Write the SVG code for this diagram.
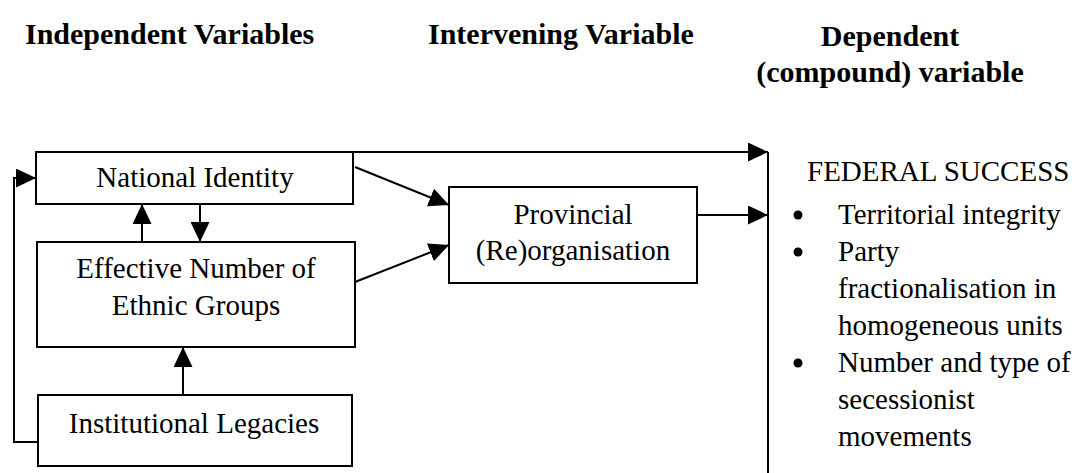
<svg xmlns="http://www.w3.org/2000/svg" width="1091" height="473" viewBox="0 0 1091 473">
<style>
  .hdr { font-family: "Liberation Serif", "Times New Roman", serif; font-weight: bold; font-size: 30px; fill: #000; }
  .t { font-family: "Liberation Serif", "Times New Roman", serif; font-size: 29px; fill: #000; }
  .box { fill: none; stroke: #000; stroke-width: 2; }
  .con { fill: none; stroke: #000; stroke-width: 2; }
</style>
<defs>
  <marker id="ah" markerUnits="userSpaceOnUse" markerWidth="20" markerHeight="19" refX="20" refY="9.5" orient="auto">
    <path d="M0,0 L20,9.5 L0,19 z" fill="#000"/>
  </marker>
</defs>
<rect width="1091" height="473" fill="#fff"/>
<g id="headers">
  <text class="hdr" x="25" y="44">Independent Variables</text>
  <text class="hdr" x="428" y="44">Intervening Variable</text>
  <text class="hdr" x="890" y="46" text-anchor="middle">Dependent</text>
  <text class="hdr" x="890" y="82" text-anchor="middle">(compound) variable</text>
</g>
<g id="national-identity">
  <rect class="box" x="36" y="152" width="317" height="52"/>
  <text class="t" x="195" y="187" text-anchor="middle">National Identity</text>
</g>
<g id="effective-number">
  <rect class="box" x="37" y="242" width="318" height="105"/>
  <text class="t" x="196" y="278" text-anchor="middle">Effective Number of</text>
  <text class="t" x="196" y="315" text-anchor="middle">Ethnic Groups</text>
</g>
<g id="institutional-legacies">
  <rect class="box" x="38" y="395" width="314" height="71"/>
  <text class="t" x="194" y="433" text-anchor="middle">Institutional Legacies</text>
</g>
<g id="provincial">
  <rect class="box" x="449" y="187" width="248" height="96"/>
  <text class="t" x="573" y="224" text-anchor="middle">Provincial</text>
  <text class="t" x="573" y="260" text-anchor="middle">(Re)organisation</text>
</g>
<g id="federal-success">
  <line class="box" x1="768" y1="152" x2="768" y2="473"/>
  <text class="t" x="807" y="181">FEDERAL SUCCESS</text>
  <g fill="#000">
    <circle cx="798" cy="215" r="4.5"/>
    <circle cx="798" cy="252" r="4.5"/>
    <circle cx="798" cy="363" r="4.5"/>
  </g>
  <text class="t" x="838" y="224">Territorial integrity</text>
  <text class="t" x="838" y="261">Party</text>
  <text class="t" x="838" y="298">fractionalisation in</text>
  <text class="t" x="838" y="335">homogeneous units</text>
  <text class="t" x="838" y="372">Number and type of</text>
  <text class="t" x="838" y="409">secessionist</text>
  <text class="t" x="838" y="446">movements</text>
</g>
<g id="connectors">
  <polyline class="con" points="38,442 14,442 14,178 36,178" marker-end="url(#ah)"/>
  <line class="con" x1="36" y1="152" x2="768" y2="152" marker-end="url(#ah)"/>
  <line class="con" x1="142" y1="242" x2="142" y2="204" marker-end="url(#ah)"/>
  <line class="con" x1="200" y1="204" x2="200" y2="242" marker-end="url(#ah)"/>
  <line class="con" x1="183" y1="395" x2="183" y2="347" marker-end="url(#ah)"/>
  <line class="con" x1="355" y1="167" x2="449" y2="205" marker-end="url(#ah)"/>
  <line class="con" x1="355" y1="282" x2="449" y2="245" marker-end="url(#ah)"/>
  <line class="con" x1="697" y1="215" x2="768" y2="215" marker-end="url(#ah)"/>
</g>
</svg>
